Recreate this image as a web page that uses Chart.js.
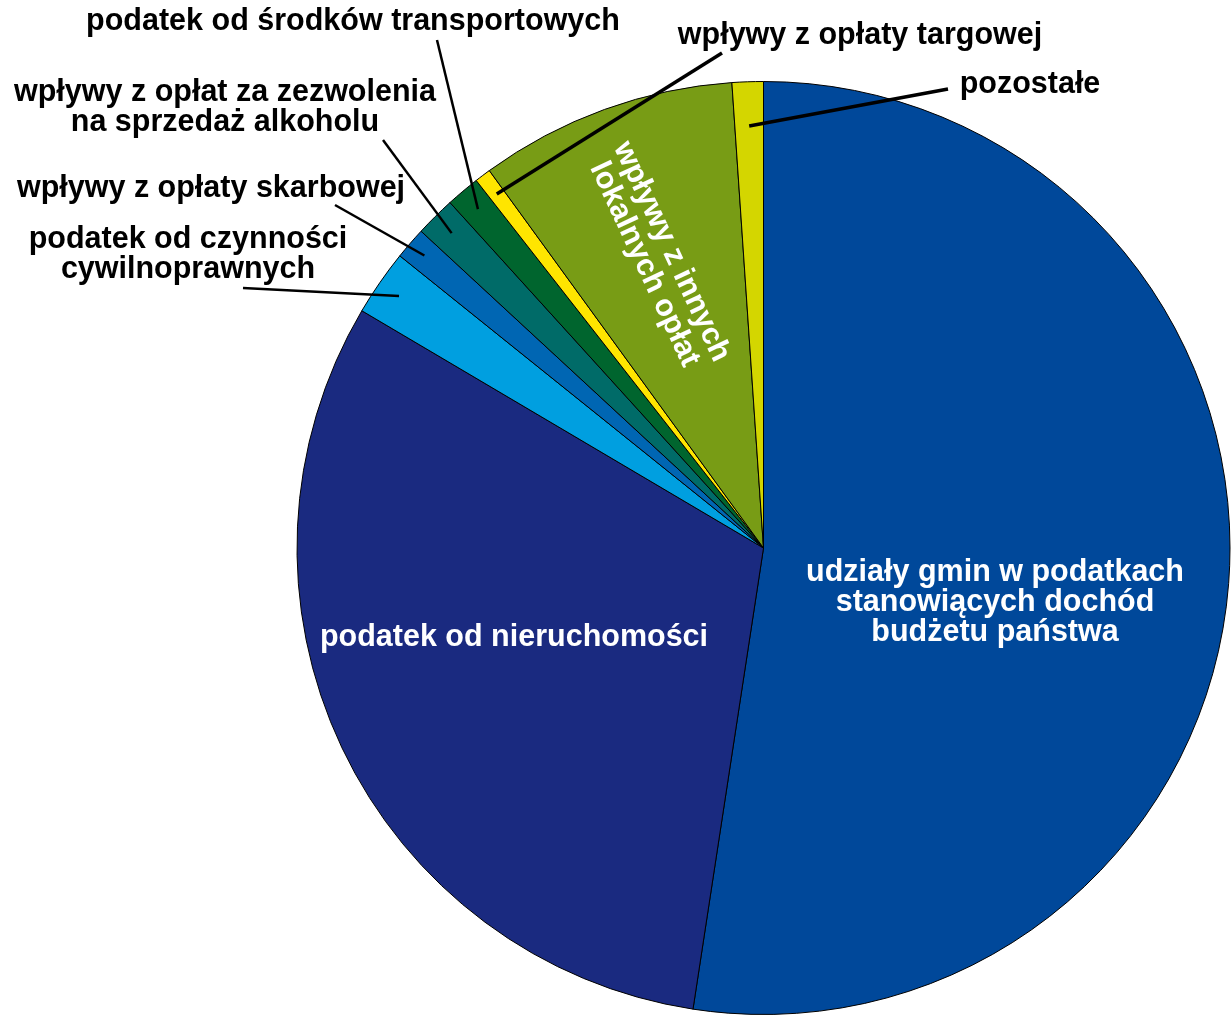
<!DOCTYPE html>
<html>
<head>
<meta charset="utf-8">
<script src="https://cdn.jsdelivr.net/npm/chart.js@4.4.1/dist/chart.umd.min.js"></script>
<style>
  body { margin: 0; background: #fff; }
  #wrap { width: 1231px; height: 1015px; position: relative; }
</style>
</head>
<body>
<div id="wrap"><canvas id="canvas"></canvas></div>
<script>
// share of each revenue source (%), clockwise from 12 o'clock
const categories = [
  'udziały gmin w podatkach stanowiących dochód budżetu państwa',
  'podatek od nieruchomości',
  'podatek od czynności cywilnoprawnych',
  'wpływy z opłaty skarbowej',
  'wpływy z opłat za zezwolenia na sprzedaż alkoholu',
  'podatek od środków transportowych',
  'wpływy z opłaty targowej',
  'wpływy z innych lokalnych opłat',
  'pozostałe'
];
const shares = [52.42, 31.08, 2.28, 1.11, 1.39, 1.17, 0.56, 8.92, 1.08];
const sliceColors = ['#00489A', '#1A2A80', '#009FE0', '#0066B3', '#006B68', '#00652E', '#FFE500', '#789C15', '#D4D600'];

// label text split in lines
const labelLines = [
  ['udziały gmin w podatkach', 'stanowiących dochód', 'budżetu państwa'],
  ['podatek od nieruchomości'],
  ['podatek od czynności', 'cywilnoprawnych'],
  ['wpływy z opłaty skarbowej'],
  ['wpływy z opłat za zezwolenia', 'na sprzedaż alkoholu'],
  ['podatek od środków transportowych'],
  ['wpływy z opłaty targowej'],
  ['wpływy z innych', 'lokalnych opłat'],
  ['pozostałe']
];

// where each label goes; "inside" labels are white in the slice, others get a leader line
const labelPlace = [
  {inside: true, x: 995, y: 573},
  {inside: true, x: 514, y: 638},
  {x: 188, y: 240, lx: 243, ly: 288, r: 0.95, w: 2.5},
  {x: 211, y: 189, lx: 335, ly: 205, r: 0.96, w: 2.5},
  {x: 225, y: 93, lx: 383, ly: 140, r: 0.95, w: 2.5},
  {x: 353, y: 22, lx: 437, ly: 40, r: 0.95, w: 2.5},
  {x: 860, y: 36, lx: 722, ly: 53, r: 0.95, w: 3.5},
  {inside: true, x: 658, y: 258, rot: 65},
  {x: 1030, y: 85, lx: 948, ly: 89, r: 0.905, w: 3.5}
];

const lineH = 30;
const labelFont = 'bold 30.5px "Liberation Sans", Arial, sans-serif';

const pieLabels = {
  id: 'pieLabels',
  afterDatasetsDraw(chart) {
    const ctx = chart.ctx;
    const arcs = chart.getDatasetMeta(0).data;
    ctx.save();
    ctx.font = labelFont;
    ctx.textAlign = 'center';
    ctx.textBaseline = 'middle';
    arcs.forEach(function(arc, i) {
      const p = labelPlace[i];
      const lines = labelLines[i];
      if (p.inside) {
        ctx.fillStyle = '#fff';
        ctx.save();
        ctx.translate(p.x, p.y);
        if (p.rot) {
          ctx.rotate(p.rot * Math.PI / 180);
          const off = (lines.length - 1) * lineH / 2;
          lines.forEach((t, k) => ctx.fillText(t, 0, k * lineH - off));
        } else {
          lines.forEach((t, k) => ctx.fillText(t, 0, k * lineH));
        }
        ctx.restore();
        return;
      }
      // leader line to the middle of the slice near its rim
      const mid = (arc.startAngle + arc.endAngle) / 2;
      const ex = arc.x + Math.cos(mid) * arc.outerRadius * p.r;
      const ey = arc.y + Math.sin(mid) * arc.outerRadius * p.r;
      ctx.strokeStyle = '#000';
      ctx.lineWidth = p.w;
      ctx.beginPath();
      ctx.moveTo(p.lx, p.ly);
      ctx.lineTo(ex, ey);
      ctx.stroke();
      ctx.fillStyle = '#000';
      lines.forEach((t, k) => ctx.fillText(t, p.x, p.y + k * lineH));
    });
    ctx.restore();
  }
};

const ctx = document.getElementById('canvas').getContext('2d');
const myPie = new Chart(ctx, {
  type: 'pie',
  data: {
    labels: categories,
    datasets: [{
      data: shares,
      backgroundColor: sliceColors,
      borderColor: '#000',
      borderWidth: 1
    }]
  },
  options: {
    responsive: true,
    maintainAspectRatio: false,
    animation: false,
    layout: { padding: { left: 296, top: 81, right: 0, bottom: 0 } },
    plugins: {
      legend: { display: false },
      tooltip: { enabled: false }
    }
  },
  plugins: [pieLabels]
});
</script>
</body>
</html>
